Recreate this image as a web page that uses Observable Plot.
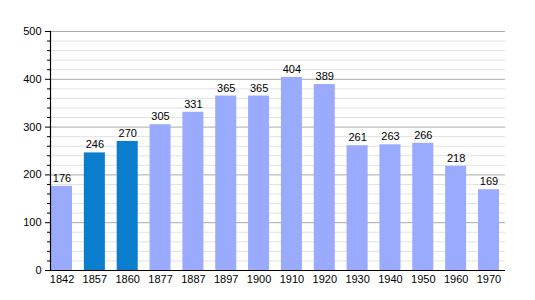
<!DOCTYPE html>
<html>
<head>
<meta charset="utf-8">
<script src="https://cdn.jsdelivr.net/npm/d3@7"></script>
<script src="https://cdn.jsdelivr.net/npm/@observablehq/plot@0.6"></script>
<style>
  html, body { margin: 0; padding: 0; background: #fff; }
  #chart svg { display: block; }
</style>
</head>
<body>
<div id="chart"></div>
<script>
const years = ["1842","1857","1860","1877","1887","1897","1900","1910","1920","1930","1940","1950","1960","1970"];
const population = [176,246,270,305,331,365,365,404,389,261,263,266,218,169];
const highlighted = ["1857","1860"];
const majorTicks = [0,100,200,300,400,500];
const minorTicks = d3.range(0, 501, 20).filter(v => v % 100 !== 0);

const data = years.map((y, i) => ({year: y, value: population[i], hi: highlighted.includes(y)}));

const font = "'Liberation Sans', Arial, sans-serif";

const chart = Plot.plot({
  width: 535,
  height: 300,
  marginLeft: 50,
  marginRight: 30,
  marginTop: 31,
  marginBottom: 30,
  style: {fontFamily: font, fontSize: "11px", background: "#fff", color: "#000"},
  x: {domain: years, range: [51, 499], paddingInner: 0.36, paddingOuter: 0, round: false, label: null, axis: null},
  y: {domain: [0, 500], label: null, axis: null},
  marks: [
    Plot.ruleY(minorTicks, {stroke: "#e2e2e2", strokeWidth: 1}),
    Plot.ruleY(majorTicks, {stroke: "#aaaaaa", strokeWidth: 1}),
    Plot.barY(data, {x: "year", y: "value", fill: d => d.hi ? "#0a7dcc" : "#99aaff"}),
    Plot.text(data, {x: "year", y: "value", text: d => String(d.value), dy: -8, fill: "#000", fontSize: 11, fontFamily: font}),
    Plot.axisY(minorTicks, {tickSize: 3, text: null, stroke: "#000"}),
    Plot.axisY(majorTicks, {tickSize: 5, tickPadding: 4, tickFormat: d => String(d), fontSize: 11, stroke: "#000", fill: "#000"}),
    Plot.axisX({tickSize: 0, tickPadding: 5, fontSize: 11, fill: "#000"}),
    Plot.ruleY([0], {stroke: "#000", strokeWidth: 1.2}),
    Plot.frame({anchor: "left", stroke: "#000", strokeWidth: 1.2})
  ]
});
document.getElementById("chart").appendChild(chart);
</script>
</body>
</html>
